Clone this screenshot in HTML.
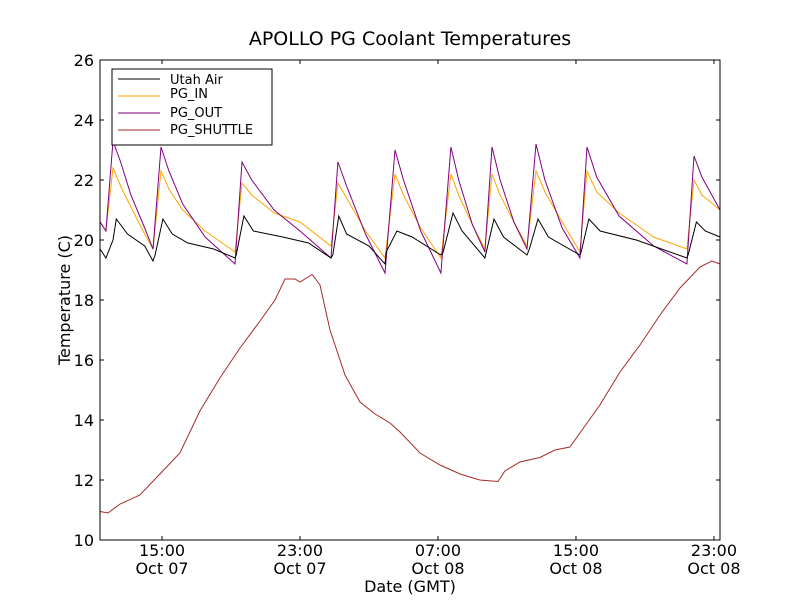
<!DOCTYPE html>
<html><head><meta charset="utf-8"><style>
body{margin:0;background:#fff;}
svg text{font-family:"DejaVu Sans","Liberation Sans",sans-serif;}
</style></head><body>
<svg id="chart" width="800" height="600" xmlns="http://www.w3.org/2000/svg">
<rect width="800" height="600" fill="#fff"/>
<text x="410" y="45" font-size="19" text-anchor="middle">APOLLO PG Coolant Temperatures</text>
<g id="plot"></g>
<rect x="100" y="60" width="620" height="480" fill="none" stroke="#000"/>
<text x="410" y="592" font-size="16" text-anchor="middle">Date (GMT)</text>
<text transform="translate(70,300) rotate(-90)" font-size="16" text-anchor="middle">Temperature (C)</text>
<g>
<rect x="112" y="69" width="160" height="76" fill="#fff" stroke="#000"/>
<line x1="118" y1="79" x2="160" y2="79" stroke="#000"/>
<text x="170" y="84" font-size="13">Utah Air</text>
<line x1="118" y1="96" x2="160" y2="96" stroke="#ffa500"/>
<text x="170" y="98" font-size="13">PG_IN</text>
<line x1="118" y1="113" x2="160" y2="113" stroke="#800080"/>
<text x="170" y="117" font-size="13">PG_OUT</text>
<line x1="118" y1="130" x2="160" y2="130" stroke="#a52a2a"/>
<text x="170" y="134" font-size="13">PG_SHUTTLE</text>
</g>
</svg>
<script>
// hours since Oct 07 00:00 GMT
const outT=[11.41,11.75,12.16,12.6,13.2,14.0,14.48,14.94,15.4,16.2,17.5,19.23,19.64,20.2,21.5,23.0,24.8,25.2,25.7,26.8,27.93,28.51,29.0,30.0,31.17,31.75,32.2,33.0,33.72,34.13,34.6,35.4,36.16,36.68,37.2,38.2,39.23,39.64,40.2,41.5,43.5,45.43,45.84,46.3,47.35];
const outV=[20.6,20.3,23.3,22.6,21.5,20.4,19.7,23.1,22.3,21.2,20.1,19.2,22.6,22.0,21.0,20.3,19.4,22.6,21.8,20.2,18.9,23.0,22.0,20.3,18.9,23.1,22.0,20.5,19.6,23.1,22.0,20.6,19.7,23.2,22.0,20.4,19.4,23.1,22.1,20.8,19.8,19.2,22.8,22.1,21.0];
const inT=[11.41,11.75,12.16,12.6,13.2,14.0,14.48,14.94,15.4,16.2,17.5,19.23,19.64,20.2,21.5,23.0,24.8,25.2,25.7,26.8,27.93,28.51,29.0,30.0,31.17,31.75,32.2,33.0,33.72,34.13,34.6,35.4,36.16,36.68,37.2,38.2,39.23,39.64,40.2,41.5,43.5,45.43,45.84,46.3,47.35];
const inV=[20.6,20.3,22.4,21.8,21.1,20.2,19.7,22.3,21.7,21.0,20.3,19.6,21.9,21.5,20.9,20.6,19.8,21.9,21.4,20.3,19.4,22.2,21.5,20.4,19.4,22.2,21.5,20.5,19.7,22.2,21.5,20.6,19.8,22.3,21.6,20.6,19.6,22.3,21.6,20.9,20.1,19.7,22.0,21.5,21.0];
const airT=[11.41,11.75,12.16,12.35,13.0,14.0,14.48,14.6,15.05,15.6,16.5,18.0,19.23,19.3,19.75,20.3,22.0,23.5,24.8,24.9,25.25,25.7,27.0,27.93,28.0,28.62,29.5,31.17,31.3,31.87,32.4,33.72,33.8,34.25,34.8,36.16,36.3,36.8,37.4,39.23,39.3,39.75,40.4,42.5,45.43,45.5,45.98,46.5,47.35];
const airV=[19.7,19.4,20.0,20.7,20.2,19.8,19.3,19.5,20.7,20.2,19.9,19.7,19.4,19.5,20.8,20.3,20.1,19.9,19.4,19.5,20.8,20.2,19.8,19.2,19.6,20.3,20.1,19.5,19.6,20.9,20.3,19.4,19.6,20.7,20.1,19.5,19.7,20.7,20.1,19.5,19.6,20.7,20.3,20.0,19.4,19.5,20.6,20.3,20.1];
const shT=[11.41,11.87,12.57,13.72,14.88,16.04,17.20,18.36,19.52,20.68,21.55,22.13,22.71,23.00,23.70,24.16,24.74,25.61,26.48,27.35,28.22,28.80,29.96,31.12,32.28,33.43,34.48,34.88,35.75,36.91,37.78,38.65,39.52,40.39,41.55,42.71,43.87,45.03,46.19,46.88,47.35];
const shV=[10.95,10.9,11.2,11.5,12.2,12.9,14.3,15.4,16.4,17.3,18.0,18.7,18.7,18.6,18.85,18.5,17.0,15.5,14.6,14.2,13.9,13.6,12.9,12.5,12.2,12.0,11.95,12.3,12.6,12.75,13.0,13.1,13.8,14.5,15.6,16.5,17.5,18.4,19.1,19.3,19.2];
const yTicks=[10,12,14,16,18,20,22,24,26];
const xTicks=[15,23,31,39,47];
const xTickTimes=["15:00","23:00","07:00","15:00","23:00"];
const xTickDates=["Oct 07","Oct 07","Oct 08","Oct 08","Oct 08"];

const NS="http://www.w3.org/2000/svg";
const X0=11.406,X1=47.35;
const sx=h=>100+(h-X0)/(X1-X0)*620;
const sy=v=>540-(v-10)/16*480;
const svg=document.getElementById('chart');
const plot=document.getElementById('plot');
function line(t,v,color,name){
  const p=document.createElementNS(NS,'polyline');
  p.setAttribute('points',t.map((h,i)=>sx(h).toFixed(1)+','+sy(v[i]).toFixed(1)).join(' '));
  p.setAttribute('fill','none');p.setAttribute('stroke',color);p.setAttribute('stroke-width','1');
  
  
  plot.appendChild(p);
}
line(shT,shV,'#a52a2a','series-pg-shuttle');
line(inT,inV,'#ffa500','series-pg-in');
line(outT,outV,'#800080','series-pg-out');
line(airT,airV,'#000','series-utah-air');
yTicks.forEach(v=>{
  const y=sy(v);
  [[100,104],[720,716]].forEach(a=>{
    const l=document.createElementNS(NS,'line');
    l.setAttribute('x1',a[0]);l.setAttribute('x2',a[1]);l.setAttribute('y1',y);l.setAttribute('y2',y);l.setAttribute('stroke','#000');
    
    
    svg.appendChild(l);
  });
  const t=document.createElementNS(NS,'text');
  t.setAttribute('x',94);t.setAttribute('y',y+6);t.setAttribute('font-size','16');t.setAttribute('text-anchor','end');
  t.textContent=v;
  
  
  svg.appendChild(t);
});
xTicks.forEach((h,i)=>{
  const x=sx(h);
  [[540,536],[60,64]].forEach(a=>{
    const l=document.createElementNS(NS,'line');
    l.setAttribute('x1',x);l.setAttribute('x2',x);l.setAttribute('y1',a[0]);l.setAttribute('y2',a[1]);l.setAttribute('stroke','#000');
    
    
    svg.appendChild(l);
  });
  [[xTickTimes[i],556],[xTickDates[i],574]].forEach(a=>{
    const t=document.createElementNS(NS,'text');
    t.setAttribute('x',x);t.setAttribute('y',a[1]);t.setAttribute('font-size','16');t.setAttribute('text-anchor','middle');
    t.textContent=a[0];
    
    
    svg.appendChild(t);
  });
});
</script>
</body></html>
